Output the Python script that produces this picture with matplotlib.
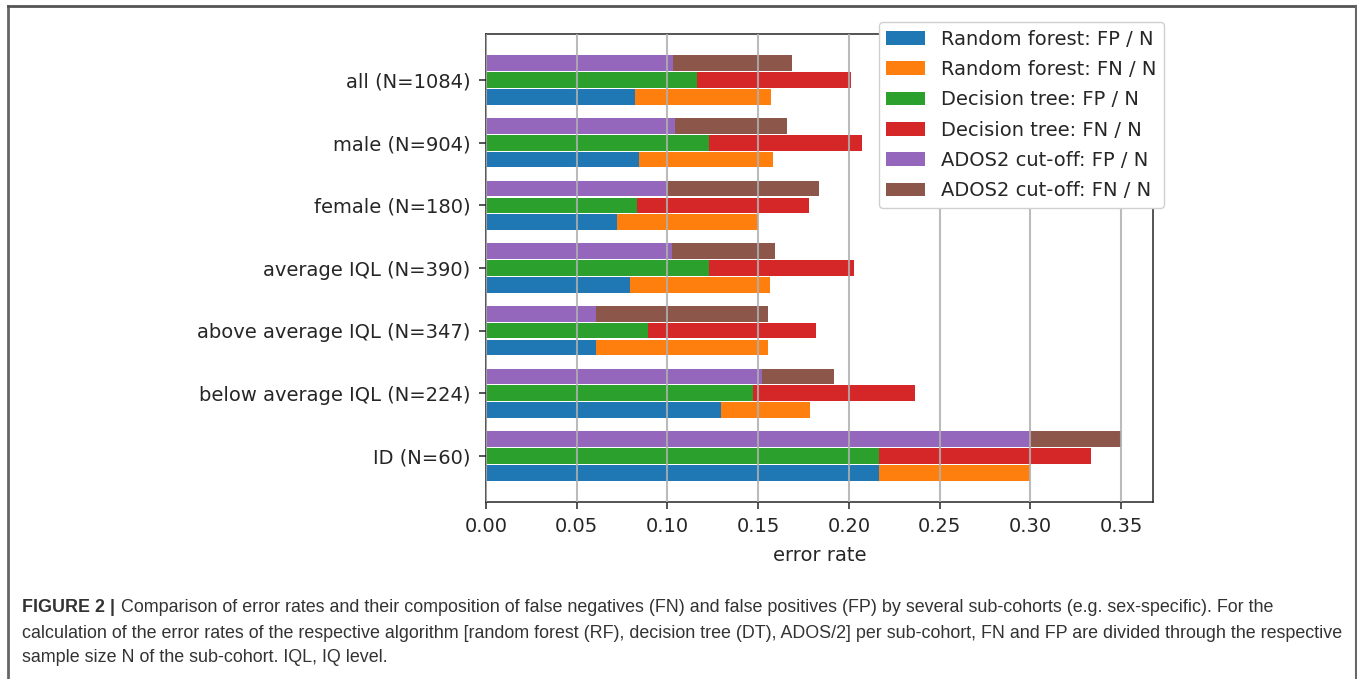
import matplotlib
matplotlib.use("Agg")
import matplotlib.pyplot as plt
import numpy as np
from matplotlib.lines import Line2D

categories = ["all (N=1084)", "male (N=904)", "female (N=180)", "average IQL (N=390)",
              "above average IQL (N=347)", "below average IQL (N=224)", "ID (N=60)"]
rf_fp = [0.0821, 0.0841, 0.0722, 0.0795, 0.0605, 0.1295, 0.2167]
rf_fn = [0.0747, 0.0741, 0.0778, 0.0769, 0.0951, 0.0491, 0.0833]
dt_fp = [0.1162, 0.1228, 0.0833, 0.1231, 0.0893, 0.1473, 0.2167]
dt_fn = [0.0849, 0.0841, 0.0945, 0.0795, 0.0923, 0.0893, 0.1167]
ados_fp = [0.1033, 0.1040, 0.1000, 0.1026, 0.0605, 0.1518, 0.3000]
ados_fn = [0.0655, 0.0619, 0.0833, 0.0564, 0.0951, 0.0402, 0.0500]
legend_labels = ["Random forest: FP / N", "Random forest: FN / N",
                 "Decision tree: FP / N", "Decision tree: FN / N",
                 "ADOS2 cut-off: FP / N", "ADOS2 cut-off: FN / N"]
xticks = [0.00, 0.05, 0.10, 0.15, 0.20, 0.25, 0.30, 0.35]

W, H = 1357, 679
fig = plt.figure(figsize=(W / 100, H / 100), dpi=100)
ax = fig.add_axes([486 / W, 1 - 502 / H, (1153 - 486) / W, (502 - 34) / H])

y = np.arange(len(categories))
h = 0.25
off = 0.27
c = plt.rcParams['axes.prop_cycle'].by_key()['color']
ax.barh(y + off, rf_fp, height=h, color=c[0], label=legend_labels[0])
ax.barh(y + off, rf_fn, left=rf_fp, height=h, color=c[1], label=legend_labels[1])
ax.barh(y, dt_fp, height=h, color=c[2], label=legend_labels[2])
ax.barh(y, dt_fn, left=dt_fp, height=h, color=c[3], label=legend_labels[3])
ax.barh(y - off, ados_fp, height=h, color=c[4], label=legend_labels[4])
ax.barh(y - off, ados_fn, left=ados_fp, height=h, color=c[5], label=legend_labels[5])

tc = '#262626'
ax.set_yticks(y)
ax.set_yticklabels(categories, fontsize=14, color=tc)
ax.invert_yaxis()
ax.set_xticks(xticks)
ax.set_xticklabels([f"{v:.2f}" for v in xticks], fontsize=14, color=tc)
ax.set_xlim(0, 0.3675)
ax.tick_params(axis='both', length=5, width=1.1, color=tc)
ax.tick_params(axis='y', pad=6)
ax.tick_params(axis='x', pad=6)
ax.set_xlabel("error rate", fontsize=14, color=tc, labelpad=7)
ax.set_axisbelow(False)
ax.grid(axis='x', color='#b0b0b0', linewidth=1.5, alpha=0.85)
for s in ax.spines.values():
    s.set_linewidth(1.1)
    s.set_color(tc)

ax.legend(loc='upper right', bbox_to_anchor=(1.0165, 1.0256), borderaxespad=0,
          fontsize=14, framealpha=1.0, edgecolor='#d0d0d0', labelspacing=0.58,
          labelcolor=tc)

# outer frame
fig.add_artist(Line2D([8 / W, 8 / W], [0, 1 - 6 / H], color='#666666', lw=2, transform=fig.transFigure))
fig.add_artist(Line2D([8 / W, 1356 / W], [1 - 6 / H, 1 - 6 / H], color='#555555', lw=2, transform=fig.transFigure))
fig.add_artist(Line2D([1355.5 / W, 1355.5 / W], [0, 1 - 6 / H], color='#666666', lw=1.5, transform=fig.transFigure))

cap_font = 'Liberation Sans'
cap_size = 12.9
cap_col = '#333333'
x0 = 22 / W
t_bold = fig.text(x0, 1 - 607 / H, "FIGURE 2 |", fontsize=cap_size, fontweight='bold',
                  family=cap_font, color=cap_col, va='center')
fig.canvas.draw()
bb = t_bold.get_window_extent(fig.canvas.get_renderer())
fig.text((bb.x1 + 6) / W, 1 - 607 / H,
         "Comparison of error rates and their composition of false negatives (FN) and false positives (FP) by several sub-cohorts (e.g. sex-specific). For the",
         fontsize=cap_size, family=cap_font, color=cap_col, va='center')
fig.text(x0, 1 - 633 / H,
         "calculation of the error rates of the respective algorithm [random forest (RF), decision tree (DT), ADOS/2] per sub-cohort, FN and FP are divided through the respective",
         fontsize=cap_size, family=cap_font, color=cap_col, va='center')
fig.text(x0, 1 - 657 / H, "sample size N of the sub-cohort. IQL, IQ level.",
         fontsize=cap_size, family=cap_font, color=cap_col, va='center')

fig.savefig("out.png", dpi=100)
